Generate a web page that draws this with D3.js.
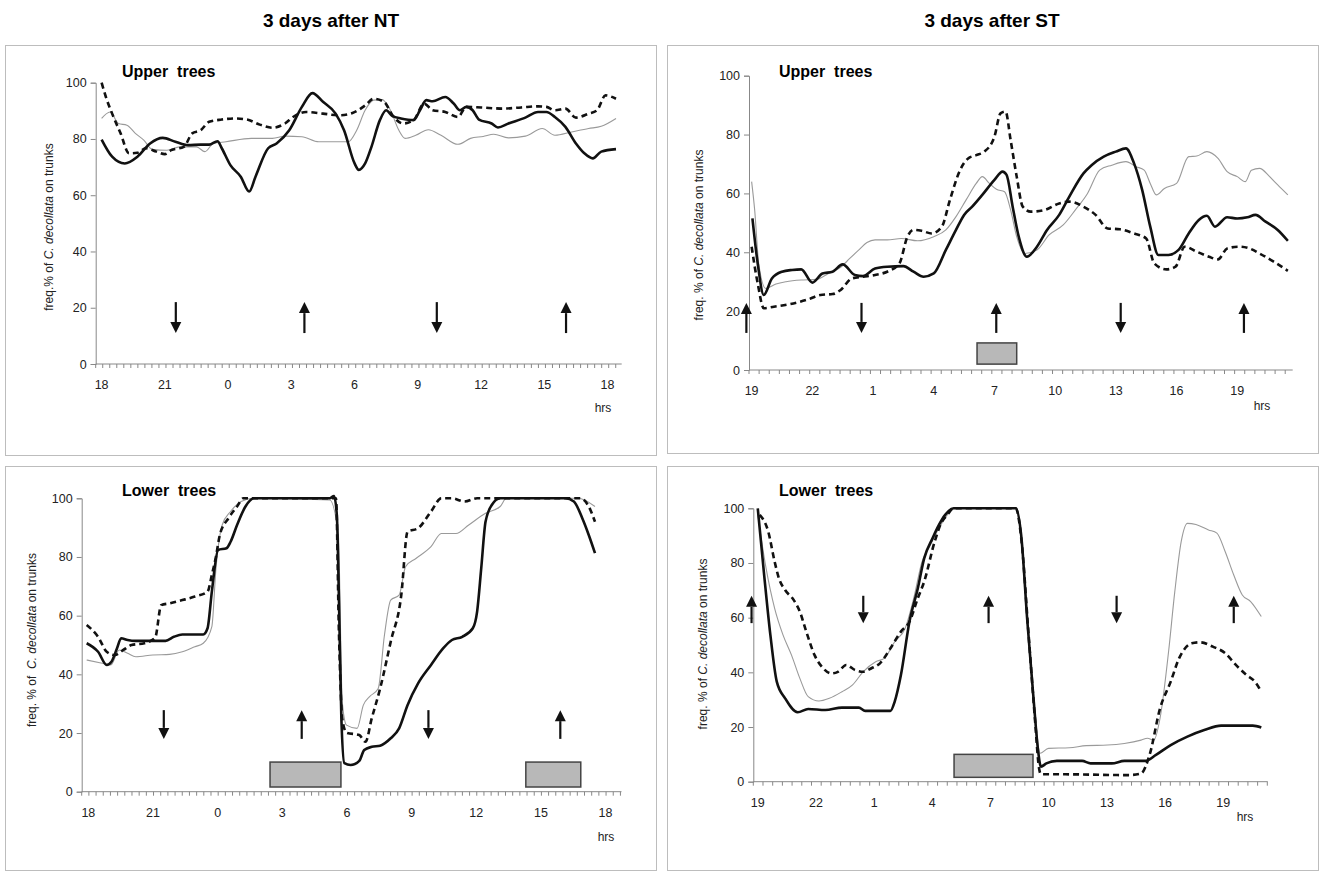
<!DOCTYPE html>
<html>
<head>
<meta charset="utf-8">
<script src="https://cdn.jsdelivr.net/npm/d3@7"></script>
<style>
  body { margin: 0; background: #fff; }
  svg { display: block; font-family: "Liberation Sans", Arial, sans-serif; }
</style>
</head>
<body>
<svg id="chart"></svg>
<script>
// ---- data: [hour, freq %] (hours past midnight of day 1 continue past 24) ----

// 3 days after NT, upper trees
const ntUpperSolid = [[18,79.8],[18.5,73.7],[19.1,71.3],[19.7,73.7],[20.3,78.4],[20.9,80.4],[21.5,79],[22.1,77.8],[22.7,78],[23.1,78],[23.5,79.2],[23.7,76.7],[24.1,70.8],[24.6,66.6],[25,61.3],[25.3,66.6],[25.9,76.7],[26.3,78.4],[26.9,83.1],[27.5,91.4],[28,96.3],[28.5,93.2],[29.1,89],[29.5,83.1],[30,71.3],[30.2,69],[30.5,71.3],[30.8,77.2],[31.2,86.7],[31.5,90.2],[31.8,88.1],[32.2,87.3],[32.8,86.7],[33.1,90.2],[33.4,93.8],[33.7,93.4],[34.3,94.9],[34.7,92.6],[35,90.2],[35.3,91.4],[35.6,90.2],[35.9,86.9],[36.5,85.5],[36.8,84.1],[37.3,85.5],[38.1,87.6],[38.7,89.6],[39.1,89.6],[39.5,87.8],[40,84.3],[40.5,78.4],[40.9,74.9],[41.3,73.1],[41.7,75.5],[42.4,76.4]];
const ntUpperDashed = [[18,100],[18.2,95],[18.5,89],[18.9,82],[19.3,74.9],[19.7,75.1],[20.1,76.7],[20.6,75.5],[21,74.6],[21.3,76],[21.9,77.2],[22.3,82],[22.7,83.1],[23.1,86.1],[23.7,86.9],[24.3,87.3],[24.9,86.9],[25.5,85.1],[26.1,84],[26.7,85.5],[27.1,87.9],[27.7,89.6],[28.5,89],[29.3,88.4],[29.9,89.2],[30.5,91.9],[30.9,94.3],[31.4,93.2],[31.8,88.4],[32.3,85.5],[32.8,86.7],[33.3,92.6],[33.7,90.2],[34.3,89.6],[34.9,87.8],[35.3,91.4],[36,91.2],[37,90.8],[37.9,91.2],[38.7,91.6],[39.1,91.4],[39.5,90.2],[40,90.8],[40.5,87.6],[41.1,89],[41.5,90.2],[41.9,95.5],[42.4,94.3]];
const ntUpperGrey = [[18,87.3],[18.4,89.6],[18.8,85.5],[19.2,84.9],[19.6,82],[20,79.6],[20.4,76.3],[21.1,76],[21.7,77.2],[22.5,77.2],[22.9,75.5],[23.3,78.4],[23.9,79],[25.1,80.2],[26.1,80.2],[26.7,81],[27.5,80.8],[28.3,79],[29.7,79],[30.1,83.1],[30.5,90.2],[30.9,93.8],[31.3,94],[31.7,90.2],[32.1,83.1],[32.4,80.2],[32.9,81.3],[33.5,83.3],[34.1,81.3],[34.9,78.1],[35.5,80.2],[36.1,80.9],[36.6,81.7],[37.3,80.4],[38.1,81],[38.9,83.7],[39.5,81.3],[40.3,82.5],[41.1,83.7],[41.7,84.5],[42.4,87.3]];
const ntUpperArrowHrs = [21.52, 27.62, 33.9, 40.03];
const ntUpperArrowDir = ["down", "up", "down", "up"];

// 3 days after ST, upper trees
const stUpperSolid = [[19.04,51.5],[19.3,36.2],[19.6,25.5],[20,31.1],[20.5,33.4],[21,34],[21.45,34.2],[22,29.7],[22.5,32.8],[23,33.4],[23.5,35.9],[24.1,32.3],[24.5,31.9],[25.1,34.5],[25.7,35.1],[26.5,35.3],[27,33.4],[27.5,31.7],[28,32.8],[28.6,40.8],[29.1,47.6],[29.5,52.7],[29.9,55.5],[30.4,59.5],[31,64.6],[31.4,67.4],[31.6,66.3],[31.9,55.5],[32.2,45.3],[32.6,38.5],[33.1,41.9],[33.6,47.6],[34.2,52.7],[34.7,58.9],[35.4,66.8],[35.8,69.6],[36.4,72.5],[37,74.2],[37.5,75.3],[37.9,70.2],[38.3,61.2],[38.7,48.7],[39.1,39.1],[39.6,39.1],[40.1,40.8],[40.6,46.4],[41.1,51],[41.5,52.4],[41.9,48.7],[42.5,51.9],[43,51.5],[43.5,51.9],[43.9,52.7],[44.4,50.4],[45,47.6],[45.5,43.9]];
const stUpperDashed = [[19,41.9],[19.3,29.4],[19.6,21],[20.1,21.5],[20.9,22.4],[21.8,24],[22.4,25.5],[23,25.8],[23.4,27.2],[23.95,31.1],[24.5,31.7],[25.1,32.3],[25.7,33.4],[26.3,36.2],[26.7,45.3],[27,47.6],[27.4,47.3],[27.9,46.4],[28.4,48.7],[28.8,57.8],[29.3,67.9],[29.7,71.9],[30.1,73],[30.5,74.2],[31,79.3],[31.3,87.2],[31.55,87.8],[31.8,78.1],[32.1,65.7],[32.4,55.5],[32.8,53.8],[33.5,54.4],[34.2,56.6],[34.7,57.2],[35.4,55.5],[36,52.7],[36.6,48.1],[37.2,47.8],[37.9,46.4],[38.5,44.7],[38.9,36.2],[39.5,34.2],[39.95,35.1],[40.4,41.9],[41,40.2],[41.6,38.5],[42.05,37.6],[42.5,41.3],[43.1,41.9],[43.6,41.3],[44.1,39.6],[44.8,36.8],[45.5,33.7]];
const stUpperGrey = [[19,64],[19.15,54.4],[19.35,36.2],[19.7,27.7],[20.2,29.2],[20.7,30],[21.55,30.6],[22.2,30.8],[22.8,32.8],[23.4,34.9],[23.85,37.9],[24.3,40.8],[24.7,43.3],[25.1,44.2],[25.7,44.2],[26.4,44.7],[27.2,43.9],[28,45.3],[28.6,47.6],[29.1,52.1],[29.6,57.8],[30.1,63.4],[30.4,65.7],[30.75,63.4],[31.1,61.4],[31.5,60.6],[31.8,54.4],[32.1,45.3],[32.5,39.6],[33.1,40.8],[33.7,45.9],[34.4,49.3],[35,54.4],[35.6,60],[36.2,67.9],[36.8,69.6],[37.5,70.8],[38,69.1],[38.4,67.9],[38.7,63.4],[39,59.5],[39.4,61.7],[40,63.4],[40.6,72.5],[41,72.7],[41.5,74.2],[42.05,71.9],[42.5,67.4],[43,65.7],[43.4,64],[43.7,67.9],[44.1,68.5],[44.6,65.7],[45,62.9],[45.5,59.5]];
const stUpperArrowHrs = [18.74, 24.43, 31.09, 37.24, 43.33];
const stUpperArrowDir = ["up", "down", "up", "down", "up"];
const stUpperBoxes = [[30.14, 32.1]];

// 3 days after NT, lower trees
const ntLowerSolid = [[17.92,50.6],[18.45,47.7],[18.85,43.2],[19.07,44.3],[19.33,48.9],[19.52,52.3],[19.82,51.7],[20.2,51.4],[20.8,51.4],[21.58,51.4],[21.97,52.8],[22.36,53.6],[22.94,53.6],[23.33,53.6],[23.53,55.7],[23.73,68.2],[24.02,82.4],[24.41,83],[24.6,85.2],[24.9,90.9],[25.29,97.2],[25.68,100],[29.2,100],[29.4,100.8],[29.53,94.3],[29.63,64.8],[29.74,25],[29.88,9.7],[30.17,9.1],[30.57,10.5],[30.8,14.2],[31.15,15.3],[31.54,15.7],[32.03,18.2],[32.42,21.6],[32.81,29.5],[33.3,36.9],[33.9,43.2],[34.47,48.9],[34.87,51.7],[35.35,52.8],[35.84,55.7],[36.04,61.4],[36.23,76.1],[36.43,92],[36.72,97.7],[37.11,100],[40.14,100],[40.53,98.9],[40.92,93.2],[41.22,87.5],[41.51,81.3]];
const ntLowerDashed = [[17.92,56.8],[18.45,52.8],[18.85,47.7],[19.23,46.6],[19.62,48.3],[20,50],[20.6,50.6],[21.1,52.5],[21.38,63.6],[21.77,64.2],[22.36,65.3],[22.94,66.5],[23.53,68.2],[23.73,73.9],[23.92,80.1],[24.1,87.5],[24.5,93.2],[24.9,97.2],[25.19,100],[29.49,100],[29.63,53.4],[29.78,25],[29.98,20.1],[30.57,19.3],[30.86,17],[31.15,25],[31.54,35.2],[32.03,51.1],[32.52,67],[32.81,88.6],[33.3,89.8],[33.9,95.5],[34.38,100],[34.87,100],[35.45,98.9],[36.04,100],[40.82,100],[41.22,97.2],[41.51,92]];
const ntLowerGrey = [[17.92,44.9],[18.64,43.8],[19.04,43.2],[19.43,48.3],[19.82,47.2],[20.2,46],[20.99,46.6],[21.77,46.8],[22.36,47.7],[22.94,49.4],[23.33,50.6],[23.73,56.3],[23.92,76.1],[24.21,90.9],[24.6,95.5],[25.09,98.9],[25.68,100],[29.2,99.4],[29.6,87.5],[29.78,30.7],[29.98,22.7],[30.47,21.6],[30.76,29.5],[31.05,32.4],[31.45,35.2],[31.74,53.4],[32.03,65.3],[32.42,67],[32.72,76.7],[33.2,79.5],[33.9,83.5],[34.38,88],[35.06,88],[35.65,90.9],[36.43,94.9],[37.11,97.2],[37.4,100],[40.72,100],[41.51,97.2]];
const ntLowerArrowHrs = [21.5, 27.9, 33.78, 39.9];
const ntLowerArrowDir = ["down", "up", "down", "up"];
const ntLowerBoxes = [[26.43, 29.72], [38.3, 40.85]];

// 3 days after ST, lower trees
const stLowerSolid = [[19,100],[19.33,75.6],[19.65,53.7],[19.98,36.6],[20.41,30.5],[21.06,25.4],[21.6,26.6],[22.48,26.2],[23.34,27.1],[24.21,27.1],[24.54,25.9],[25.84,25.9],[26.06,29.3],[26.38,39],[26.82,58.5],[27.25,70.7],[27.58,81.7],[28.01,89],[28.34,93.9],[28.66,97.6],[29.1,100],[32.3,100],[32.58,90.2],[32.9,58.5],[33.23,29.3],[33.44,12.2],[33.6,5.5],[33.88,6.7],[34.42,7.6],[35.72,7.6],[36.16,6.7],[37.25,6.7],[37.9,7.6],[38.98,7.6],[39.53,9.8],[40.29,13.4],[41.15,16.5],[42.02,18.9],[42.89,20.5],[43.76,20.5],[44.52,20.5],[44.96,19.8]];
const stLowerDashed = [[19.1,97.6],[19.54,91.5],[19.87,80.5],[20.09,74.4],[20.41,70.1],[20.85,66.5],[21.17,62.2],[21.5,54.9],[21.93,46.3],[22.37,41.5],[22.8,39.6],[23.13,40.2],[23.56,42.7],[24,40.9],[24.43,40.2],[24.86,41.5],[25.3,43.3],[25.84,48.8],[26.38,54.9],[26.82,58.5],[27.25,67.1],[27.58,73.2],[28.12,87.8],[28.45,94.5],[28.77,97.6],[29.1,100],[32.3,100],[32.6,88],[32.95,55],[33.3,22],[33.5,5],[33.6,2.7],[34.86,2.7],[38.11,2.4],[38.76,3],[39.2,9.8],[39.74,26.8],[40.29,36.6],[40.72,45.1],[41.37,50.6],[41.8,51],[42.46,49.4],[43.1,47],[43.65,42.7],[44.2,39],[44.63,36.6],[44.96,32.9]];
const stLowerGrey = [[19,97.6],[19.43,78],[19.87,63.4],[20.3,53.7],[20.74,46.3],[21.17,37.8],[21.6,31.1],[22.15,29.5],[22.69,30.5],[23.34,32.9],[23.89,35.4],[24.43,40.2],[25.08,43.9],[25.52,45.1],[26.06,51.2],[26.6,56.1],[27.04,67.1],[27.47,80.5],[27.9,86.6],[28.34,92.7],[28.77,97.6],[29.1,100],[32.3,100],[32.6,88],[32.95,55],[33.3,25],[33.55,10.4],[33.99,12.2],[35.07,12.4],[35.94,13.2],[37.03,13.4],[37.9,14],[38.76,15.2],[39.09,15.9],[39.42,15.2],[39.74,23.2],[40.18,47.6],[40.5,69.5],[40.83,87.8],[41.15,94.5],[41.59,94.1],[42.24,92.1],[42.67,90.9],[43.1,84.1],[43.54,75.6],[43.98,68.3],[44.41,65.9],[44.96,60.4]];
const stLowerArrowHrs = [18.68, 24.44, 30.9, 37.5, 43.54];
const stLowerArrowDir = ["up", "down", "up", "down", "up"];
const stLowerBoxes = [[29.12, 33.19]];

const yTicks = [0, 20, 40, 60, 80, 100];
const columnTitles = ["3 days after NT", "3 days after ST"];

// ---- layout ----
const W = 1327, H = 872;
const svg = d3.select("#chart").attr("width", W).attr("height", H);

const panels = [
  { box: [5, 45, 651, 410], xr: [95.7, 621.7], dom: [17.72, 42.67], yr: [364, 82.7], first: 18, step: 1/3,
    label: "Upper  trees", labelAt: [122, 77], hrsAt: [603, 412], titleAt: [53, 227], axTitle: "freq.% of ",
    solid: ntUpperSolid, dashed: ntUpperDashed, grey: ntUpperGrey,
    arrows: ntUpperArrowHrs, dirs: ntUpperArrowDir, arrowV: [22, 11], boxes: [] },
  { box: [667, 45, 651, 408], xr: [749, 1292.7], dom: [18.87, 45.74], yr: [370, 75.7], first: 19, step: 0.5,
    label: "Upper  trees", labelAt: [779, 77], hrsAt: [1262, 410], titleAt: [703, 235], axTitle: "freq. % of ",
    solid: stUpperSolid, dashed: stUpperDashed, grey: stUpperGrey,
    arrows: stUpperArrowHrs, dirs: stUpperArrowDir, arrowV: [22.8, 12.6], boxes: stUpperBoxes, boxV: [2, 9.2] },
  { box: [5, 466, 651, 404], xr: [81.7, 621.5], dom: [17.69, 42.74], yr: [791.7, 498.3], first: 18, step: 1/3,
    label: "Lower  trees", labelAt: [122, 496], hrsAt: [606, 841], titleAt: [36, 640], axTitle: "freq. % of  ",
    solid: ntLowerSolid, dashed: ntLowerDashed, grey: ntLowerGrey,
    arrows: ntLowerArrowHrs, dirs: ntLowerArrowDir, arrowV: [27.8, 18], boxes: ntLowerBoxes, boxV: [1.6, 10.1] },
  { box: [667, 466, 651, 404], xr: [753.3, 1267.7], dom: [18.77, 45.29], yr: [781.7, 508.3], first: 19, step: 0.5,
    label: "Lower  trees", labelAt: [779, 496], hrsAt: [1245, 821], titleAt: [707, 644], axTitle: "freq. % of ",
    solid: stLowerSolid, dashed: stLowerDashed, grey: stLowerGrey,
    arrows: stLowerArrowHrs, dirs: stLowerArrowDir, arrowV: [68, 58], boxes: stLowerBoxes, boxV: [1.6, 10] }
];

// column titles
svg.selectAll("text.coltitle")
  .data(columnTitles)
  .enter().append("text")
  .attr("class", "coltitle")
  .attr("x", (d, i) => i === 0 ? 331 : 992)
  .attr("y", 27)
  .attr("text-anchor", "middle")
  .attr("font-size", 19)
  .attr("font-weight", "bold")
  .text(d => d);

panels.forEach(p => {
  const g = svg.append("g");

  // panel frame
  g.append("rect")
    .attr("x", p.box[0] + 0.5).attr("y", p.box[1] + 0.5)
    .attr("width", p.box[2]).attr("height", p.box[3])
    .attr("fill", "none").attr("stroke", "#bdbdbd");

  const x = d3.scaleLinear().domain(p.dom).range(p.xr);
  const y = d3.scaleLinear().domain([0, 100]).range(p.yr);

  // y axis
  const yAxis = g.append("g")
    .attr("transform", `translate(${p.xr[0]},0)`)
    .call(d3.axisLeft(y).tickValues(yTicks).tickSize(5).tickPadding(4));
  yAxis.select(".domain").attr("stroke", "#888");
  yAxis.selectAll(".tick line").attr("stroke", "#888");
  yAxis.selectAll("text").attr("font-size", 12.5).attr("fill", "#222")
    .attr("font-family", "'Liberation Sans', Arial, sans-serif");

  // x axis: minor ticks + hour labels every 3 h
  const tickHrs = d3.range(p.dom[0], p.dom[1] + 0.01, p.step);
  g.append("line")
    .attr("x1", p.xr[0]).attr("x2", p.xr[1])
    .attr("y1", p.yr[0]).attr("y2", p.yr[0])
    .attr("stroke", "#888");
  g.selectAll("line.xt")
    .data(tickHrs)
    .enter().append("line")
    .attr("class", "xt")
    .attr("x1", d => x(d)).attr("x2", d => x(d))
    .attr("y1", p.yr[0]).attr("y2", p.yr[0] + 4)
    .attr("stroke", "#888");
  const labelHrs = d3.range(p.first, p.dom[1], 3);
  g.selectAll("text.xl")
    .data(labelHrs)
    .enter().append("text")
    .attr("class", "xl")
    .attr("x", d => x(d))
    .attr("y", p.yr[0] + 25)
    .attr("text-anchor", "middle")
    .attr("font-size", 12.5)
    .attr("fill", "#222")
    .text(d => d % 24);

  g.append("text")
    .attr("x", p.hrsAt[0]).attr("y", p.hrsAt[1])
    .attr("text-anchor", "middle")
    .attr("font-size", 12).attr("fill", "#222")
    .text("hrs");

  // y axis title
  const t = g.append("text")
    .attr("transform", `translate(${p.titleAt[0]},${p.titleAt[1]}) rotate(-90)`)
    .attr("text-anchor", "middle")
    .attr("font-size", 12).attr("fill", "#222")
    .style("white-space", "pre");
  t.append("tspan").text(p.axTitle);
  t.append("tspan").attr("font-style", "italic").text("C. decollata");
  t.append("tspan").text(" on trunks");

  // panel label
  g.append("text")
    .attr("x", p.labelAt[0]).attr("y", p.labelAt[1])
    .attr("font-size", 16).attr("font-weight", "bold")
    .style("white-space", "pre")
    .text(p.label);

  // shaded boxes
  g.selectAll("rect.shade")
    .data(p.boxes)
    .enter().append("rect")
    .attr("class", "shade")
    .attr("x", d => x(d[0]))
    .attr("width", d => x(d[1]) - x(d[0]))
    .attr("y", y(p.boxV ? p.boxV[1] : 0))
    .attr("height", p.boxV ? y(p.boxV[0]) - y(p.boxV[1]) : 0)
    .attr("fill", "#b8b8b8")
    .attr("stroke", "#444").attr("stroke-width", 1.5);

  // lines
  const line = d3.line()
    .x(d => x(d[0]))
    .y(d => y(d[1]))
    .curve(d3.curveMonotoneX);

  g.append("path").datum(p.grey)
    .attr("d", line).attr("fill", "none")
    .attr("stroke", "#9a9a9a").attr("stroke-width", 1.1);
  g.append("path").datum(p.dashed)
    .attr("d", line).attr("fill", "none")
    .attr("stroke", "#111").attr("stroke-width", 2.6)
    .attr("stroke-dasharray", "6,4");
  g.append("path").datum(p.solid)
    .attr("d", line).attr("fill", "none")
    .attr("stroke", "#111").attr("stroke-width", 2.6);

  // dusk / dawn arrows
  const yTop = y(p.arrowV[0]), yBot = y(p.arrowV[1]);
  p.arrows.forEach((h, i) => {
    const ax = x(h);
    const down = p.dirs[i] === "down";
    const tip = down ? yBot : yTop;
    const tail = down ? yTop : yBot;
    const base = down ? tip - 11 : tip + 11;
    g.append("line")
      .attr("x1", ax).attr("x2", ax)
      .attr("y1", tail).attr("y2", base)
      .attr("stroke", "#111").attr("stroke-width", 2.2);
    g.append("path")
      .attr("d", `M${ax - 5.5},${base} L${ax + 5.5},${base} L${ax},${tip} Z`)
      .attr("fill", "#111");
  });
});
</script>
</body>
</html>
